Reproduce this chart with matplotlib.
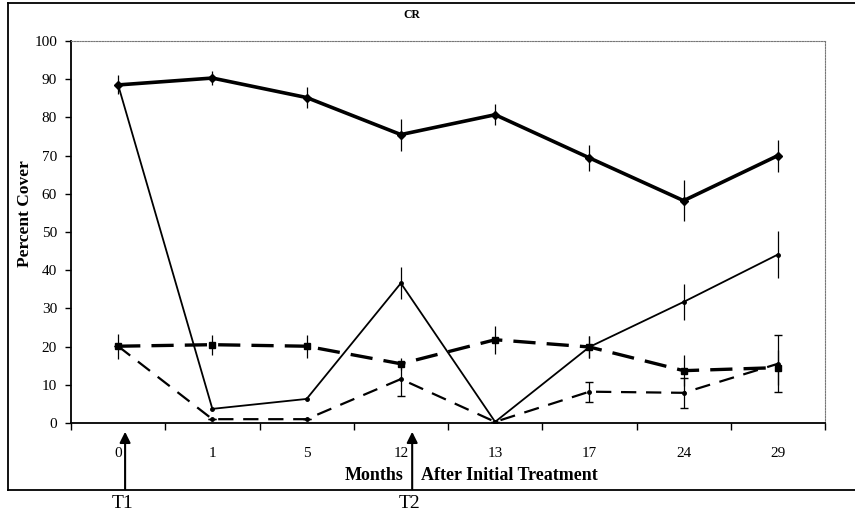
import matplotlib
matplotlib.use("Agg")
import matplotlib.pyplot as plt
from matplotlib.lines import Line2D
import numpy as np

# ---- data ----
months = ["0", "1", "5", "12", "13", "17", "24", "29"]
thick_solid = [88.5, 90.3, 85.2, 75.5, 80.7, 69.4, 58.2, 70.0]
thick_solid_err = [2.5, 1.8, 2.8, 4.2, 2.7, 3.5, 5.3, 4.2]
thin_solid = [88.5, 3.7, 6.3, 36.6, 0.3, 19.9, 31.7, 44.1]
thin_solid_err = [0, 0, 0, 4.2, 0, 2.9, 4.7, 6.2]
thick_dashed = [20.1, 20.5, 20.1, 15.5, 21.8, 19.9, 13.7, 14.5]
thick_dashed_err = [3.3, 2.6, 3.0, 1.5, 3.7, 3.0, 4.0, 4.5]
thin_dashed = [20.1, 1.0, 1.0, 11.5, 0.3, 8.2, 7.9, 15.5]
thin_dashed_err = [0, 0, 0, 4.5, 0, 2.6, 4.0, 7.5]
yticks = list(range(0, 101, 10))

W, H = 855, 513
plt.rcParams['font.family'] = ['Liberation Serif', 'DejaVu Serif']
plt.rcParams['lines.scale_dashes'] = False

fig = plt.figure(figsize=(W / 100, H / 100), dpi=100)
ax = fig.add_axes([71 / W, 1 - 423 / H, (825 - 71) / W, (423 - 41) / H])

x = np.arange(len(months))

# thick solid
ax.errorbar(x, thick_solid, yerr=thick_solid_err, color='black', lw=2.6,
            marker='D', ms=4.5, ecolor='black', elinewidth=0.9, capsize=0, zorder=4)
# thin solid
ax.errorbar(x, thin_solid, yerr=thin_solid_err, color='black', lw=1.3,
            marker='o', ms=2.5, ecolor='black', elinewidth=0.9, capsize=0, zorder=3)
# thick dashed
eb = ax.errorbar(x, thick_dashed, yerr=thick_dashed_err, color='black', lw=2.4,
                 marker='s', ms=5, ecolor='black', elinewidth=0.9, capsize=0, zorder=3)
eb[0].set_dashes((16, 8))
# thin dashed
eb2 = ax.errorbar(x, thin_dashed, yerr=thin_dashed_err, color='black', lw=1.6,
                  marker='o', ms=2.5, ecolor='black', elinewidth=0.9, capsize=3, zorder=3)
eb2[0].set_dashes((11, 7))

ax.set_xlim(-0.5, len(months) - 0.5)
ax.set_ylim(0, 100)
ax.set_yticks(yticks)
ax.set_yticklabels([str(v) for v in yticks], fontsize=11)
ax.tick_params(axis='y', direction='out', length=4, width=1, pad=6)

ax.set_xticks(np.arange(-0.5, len(months), 1.0))
ax.set_xticklabels([])
ax.set_xticks(x, minor=True)
ax.set_xticklabels(months, minor=True, fontsize=11)
ax.tick_params(axis='x', which='major', direction='out', length=5, width=1)
ax.tick_params(axis='x', which='minor', length=0, pad=17)

for s in ['top', 'right']:
    ax.spines[s].set_linestyle((0, (1, 1)))
    ax.spines[s].set_color('#777777')
    ax.spines[s].set_linewidth(0.8)
for s in ['left', 'bottom']:
    ax.spines[s].set_color('black')
    ax.spines[s].set_linewidth(1.3)

# title & labels
fig.text(412 / W, 1 - 15 / H, "CR", fontsize=8.5, fontweight='bold', ha='center', va='center')
fig.text(25 / W, 1 - 214 / H, "Percent Cover", fontsize=12.5, fontweight='bold',
         rotation=90, ha='center', va='center')
fig.text(404 / W, 1 - 475 / H, "Months", fontsize=13, fontweight='bold', ha='right', va='center')
fig.text(421 / W, 1 - 475 / H, "After Initial Treatment", fontsize=13, fontweight='bold',
         ha='left', va='center')

# treatment arrows
for xpos, lab in [(0.074, "T1"), (3.12, "T2")]:
    ax.annotate("", xy=(xpos, H - 429), xytext=(xpos, H - 492),
                xycoords=('data', 'figure pixels'), textcoords=('data', 'figure pixels'),
                arrowprops=dict(arrowstyle='-|>', color='black', lw=1.5, mutation_scale=16),
                annotation_clip=False)
    ax.annotate(lab, xy=(xpos - 0.03, H - 503), xycoords=('data', 'figure pixels'),
                ha='center', va='center', fontsize=14, annotation_clip=False)

# outer border (partial frame)
fx = lambda px: px / W
fy = lambda py: 1 - py / H
fig.add_artist(Line2D([fx(8), 1], [fy(2.5), fy(2.5)], transform=fig.transFigure, color='black', lw=1.3))
fig.add_artist(Line2D([fx(8), fx(8)], [fy(2.5), fy(490)], transform=fig.transFigure, color='black', lw=1.3))
fig.add_artist(Line2D([fx(8), 1], [fy(490), fy(490)], transform=fig.transFigure, color='black', lw=1.3))

fig.savefig("out.png", dpi=100)
